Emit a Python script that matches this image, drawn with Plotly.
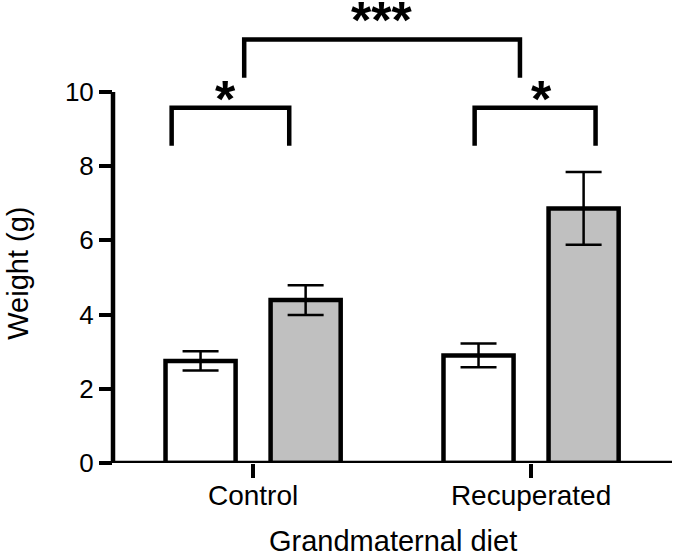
import plotly.graph_objects as go

# ---- data ----
categories = ["Control", "Recuperated"]
white_means = [2.75, 2.90]
white_errs = [0.26, 0.32]
gray_means = [4.39, 6.86]
gray_errs = [0.40, 0.98]
y_tick_vals = [0, 2, 4, 6, 8, 10]
y_tick_text = ["0", "2", "4", "6", "8", "10"]
sig_labels = ["*", "*", "***"]

# significance brackets (category-axis units / y-axis units)
bracket_x0 = [-0.293, 0.797, -0.032]
bracket_x1 = [0.130, 1.232, 0.960]
bracket_top = [9.57, 9.57, 11.41]
bracket_bottom = [8.55, 8.55, 10.38]
star_x = [-0.099, 1.036, 0.462]
star_y = [9.96, 9.96, 12.09]

FONT = "Arial, Liberation Sans, sans-serif"
LW = 4.5

fig = go.Figure()
fig.add_trace(go.Bar(
    x=categories, y=white_means, name="white",
    marker=dict(color="white", line=dict(color="black", width=LW)),
    error_y=dict(type="data", array=white_errs, visible=True,
                 color="black", thickness=2.5, width=18),
))
fig.add_trace(go.Bar(
    x=categories, y=gray_means, name="gray",
    marker=dict(color="#c0c0c0", line=dict(color="black", width=LW)),
    error_y=dict(type="data", array=gray_errs, visible=True,
                 color="black", thickness=2.5, width=18),
))

shapes = []
# y axis line from 0 to 10 and x axis line
shapes.append(dict(type="line", xref="paper", yref="y", x0=0, x1=0,
                   y0=0, y1=max(y_tick_vals), line=dict(color="black", width=LW)))
shapes.append(dict(type="line", xref="paper", yref="y", x0=0, x1=1,
                   y0=0, y1=0, line=dict(color="black", width=LW)))
for x0, x1, yt, yb in zip(bracket_x0, bracket_x1, bracket_top, bracket_bottom):
    shapes.append(dict(type="path", xref="x", yref="y",
                       path=f"M {x0},{yb} L {x0},{yt} L {x1},{yt} L {x1},{yb}",
                       line=dict(color="black", width=LW)))

annotations = []
for lbl, sx, sy in zip(sig_labels, star_x, star_y):
    annotations.append(dict(x=sx, y=sy, xref="x", yref="y", text=lbl,
                            showarrow=False, xanchor="center", yanchor="middle",
                            yshift=-6,
                            font=dict(family=FONT, size=52, color="black", weight="bold")))
annotations.append(dict(x=0, y=5.1, xref="paper", yref="y", text="Weight (g)",
                        textangle=-90, showarrow=False, xanchor="center",
                        yanchor="middle", xshift=-95,
                        font=dict(family=FONT, size=29, color="black")))
annotations.append(dict(x=0.5, y=0, xref="paper", yref="paper",
                        text="Grandmaternal diet", showarrow=False,
                        xanchor="center", yanchor="top", yshift=-60,
                        font=dict(family=FONT, size=29, color="black")))

fig.update_layout(
    width=675, height=557,
    margin=dict(l=113, r=3, t=0, b=93.5),
    paper_bgcolor="white", plot_bgcolor="white",
    barmode="group", bargap=0.244, bargroupgap=0.333,
    showlegend=False,
    shapes=shapes, annotations=annotations,
    xaxis=dict(type="category", range=[-0.504, 1.507], showline=False,
               showgrid=False, zeroline=False, ticks="outside", ticklen=14,
               tickwidth=3.5, tickcolor="black", ticklabelstandoff=-7,
               tickfont=dict(family=FONT, size=28, color="black")),
    yaxis=dict(range=[0, 12.476], showline=False, showgrid=False,
               zeroline=False, ticks="outside", ticklen=13, tickwidth=3.5,
               tickcolor="black", tickvals=y_tick_vals, ticktext=y_tick_text,
               tickfont=dict(family=FONT, size=26, color="black")),
)

fig.write_html("out.html", config={"displayModeBar": False},
               post_script="document.body.style.margin='0';document.body.style.padding='0';")
